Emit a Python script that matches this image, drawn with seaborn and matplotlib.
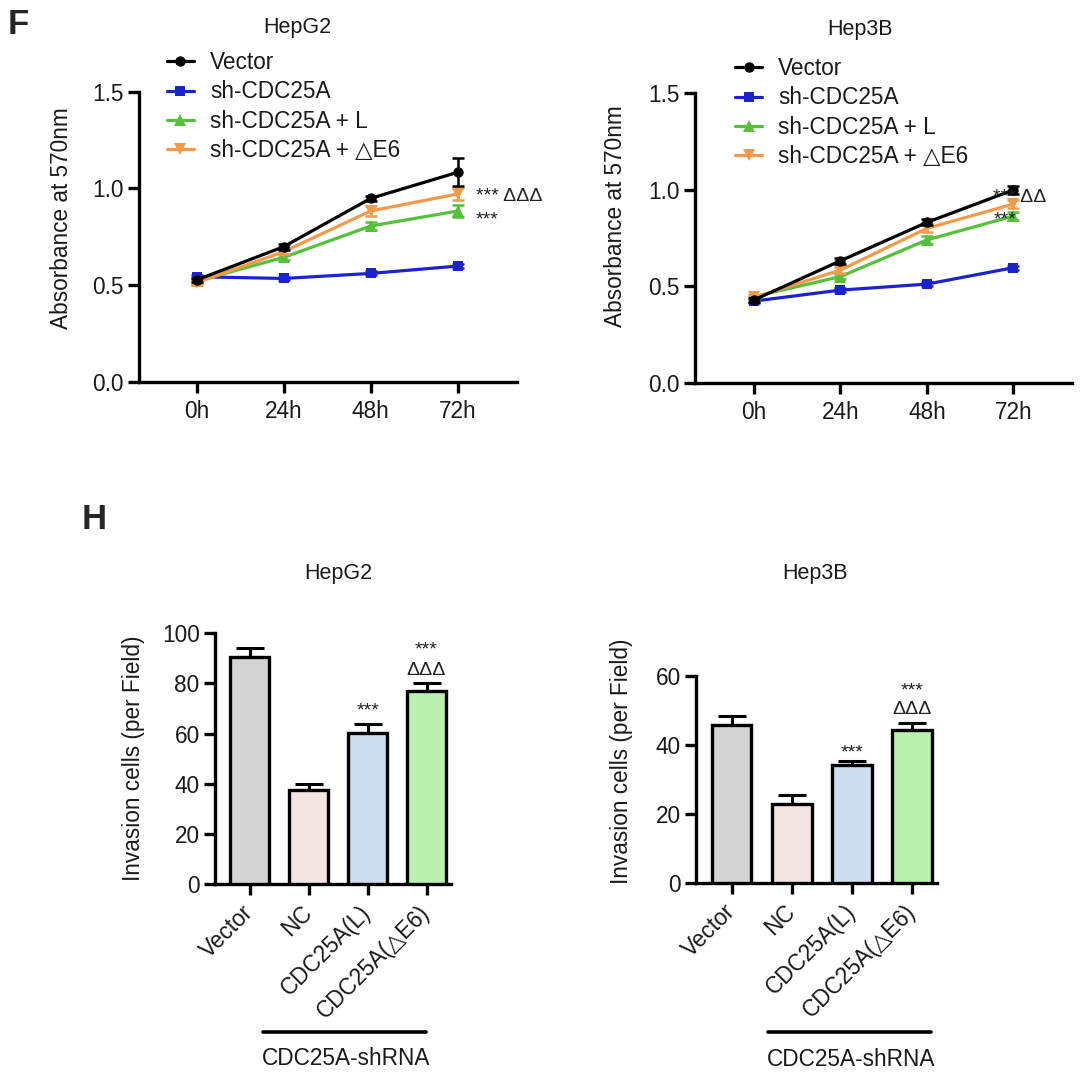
import numpy as np
import pandas as pd
import matplotlib
matplotlib.use("Agg")
import matplotlib.pyplot as plt
import matplotlib.transforms as mtransforms
from matplotlib.lines import Line2D
import seaborn as sns

sns.set_style("ticks")
plt.rcParams['font.family'] = ['Liberation Sans', 'DejaVu Sans']

# ---------------- data ----------------
times = [0, 24, 48, 72]
time_labels = ["0h", "24h", "48h", "72h"]
groups = ["Vector", "sh-CDC25A", "sh-CDC25A + L", "sh-CDC25A + \u25b3E6"]

hepg2_vector = [0.526, 0.698, 0.948, 1.083]
hepg2_sh = [0.543, 0.534, 0.560, 0.598]
hepg2_L = [0.520, 0.643, 0.805, 0.883]
hepg2_dE6 = [0.512, 0.672, 0.883, 0.971]
hepg2_vector_err = [0.010, 0.015, 0.015, 0.072]
hepg2_sh_err = [0.010, 0.010, 0.010, 0.010]
hepg2_L_err = [0.010, 0.012, 0.020, 0.030]
hepg2_dE6_err = [0.010, 0.012, 0.025, 0.030]

hep3b_vector = [0.429, 0.632, 0.831, 0.999]
hep3b_sh = [0.423, 0.480, 0.511, 0.596]
hep3b_L = [0.446, 0.550, 0.740, 0.864]
hep3b_dE6 = [0.442, 0.584, 0.800, 0.926]
hep3b_vector_err = [0.010, 0.015, 0.015, 0.020]
hep3b_sh_err = [0.010, 0.010, 0.010, 0.010]
hep3b_L_err = [0.010, 0.015, 0.020, 0.020]
hep3b_dE6_err = [0.010, 0.015, 0.020, 0.020]

bar_categories = ["Vector", "NC", "CDC25A(L)", "CDC25A(\u25b3E6)"]
hepg2_invasion = [90.7, 37.5, 60.4, 77.1]
hepg2_invasion_err = [3.6, 2.3, 3.3, 3.0]
hep3b_invasion = [45.7, 23.0, 34.1, 44.3]
hep3b_invasion_err = [2.8, 2.6, 1.4, 2.2]

# ---------------- styles ----------------
line_colors = {groups[0]: "#000000", groups[1]: "#1b24cc",
               groups[2]: "#55c03c", groups[3]: "#f39a4a"}
line_markers = {groups[0]: "o", groups[1]: "s", groups[2]: "^", groups[3]: "v"}
marker_sizes = {groups[0]: 7.5, groups[1]: 7, groups[2]: 8.5, groups[3]: 8.5}
bar_colors = ["#d4d4d4", "#f7e1e1", "#c9dcf3", "#b3fba5"]

FS = 16.3
SPINE = 2.4

fig = plt.figure(figsize=(10.8, 10.78), dpi=100)
W, H = 1080.0, 1078.0


def ax_px(left, top, right, bottom):
    return fig.add_axes([left / W, 1 - bottom / H, (right - left) / W, (bottom - top) / H])


def style_axes(ax):
    sns.despine(ax=ax)
    for s in ["left", "bottom"]:
        ax.spines[s].set_linewidth(SPINE)
        ax.spines[s].set_color("black")
    ax.tick_params(axis="both", width=SPINE, length=8, color="black",
                   labelsize=FS, labelcolor="#1a1a1a")
    ax.tick_params(axis="y", pad=3)
    ax.tick_params(axis="x", pad=5)


def line_panel(ax, series, errs, xlim, legend_anchor, annots):
    df = pd.DataFrame({
        "time": np.tile(times, 4),
        "value": np.concatenate(series),
        "group": np.repeat(groups, 4),
    })
    draw_order = [groups[1], groups[2], groups[3], groups[0]]
    for z, g in enumerate(draw_order):
        sub = df[df.group == g]
        i = groups.index(g)
        ax.errorbar(times, series[i], yerr=errs[i], fmt="none",
                    ecolor=line_colors[g], elinewidth=1.8, capsize=4.5,
                    capthick=1.8, zorder=2 + z * 2)
        sns.lineplot(data=sub, x="time", y="value", color=line_colors[g],
                     marker=line_markers[g], markersize=marker_sizes[g],
                     markeredgewidth=0, linewidth=2.3, ax=ax, legend=False,
                     zorder=3 + z * 2, errorbar=None)
    ax.set_xlim(*xlim)
    ax.set_ylim(0, 1.5)
    ax.set_xticks(times)
    ax.set_xticklabels(time_labels)
    ax.set_yticks([0, 0.5, 1.0, 1.5])
    ax.set_yticklabels(["0.0", "0.5", "1.0", "1.5"])
    ax.set_xlabel("")
    ax.set_ylabel("Absorbance at 570nm", fontsize=FS, color="#1a1a1a", va="center")
    style_axes(ax)
    handles = [Line2D([0], [0], color=line_colors[g], marker=line_markers[g],
                      markersize=marker_sizes[g], markeredgewidth=0, linewidth=2.3)
               for g in groups]
    leg = ax.legend(handles, groups, loc="upper left", bbox_to_anchor=legend_anchor,
                    frameon=False, fontsize=FS, handlelength=1.2, handletextpad=0.7,
                    labelspacing=0.28, borderpad=0, borderaxespad=0)
    for t in leg.get_texts():
        t.set_color("#1a1a1a")
    for (x, y, s) in annots:
        ax.text(x, y, s, fontsize=14, color="#222222", ha="left", va="baseline",
                clip_on=False, zorder=20)


def bar_panel(ax, values, errs, ylim, yticks, annots, line_x, line_y, text_x, text_y):
    df = pd.DataFrame({"cat": bar_categories, "val": values})
    sns.barplot(data=df, x="cat", y="val", hue="cat", palette=bar_colors,
                order=bar_categories, hue_order=bar_categories, legend=False,
                width=0.66, edgecolor="black", linewidth=2.4, errorbar=None,
                ax=ax, zorder=3)
    xs = np.arange(len(bar_categories))
    ax.errorbar(xs, values, yerr=[np.zeros(len(values)), errs], fmt="none",
                ecolor="black", elinewidth=2.2, capsize=10, capthick=2.2, zorder=2)
    ax.set_xlim(-0.59, 3.41)
    ax.set_ylim(*ylim)
    ax.set_yticks(yticks)
    ax.set_xlabel("")
    ax.set_ylabel("Invasion cells (per Field)", fontsize=FS, color="#1a1a1a", va="center")
    style_axes(ax)
    ax.set_xticks(xs)
    ax.set_xticklabels(bar_categories, rotation=45, ha="right",
                       rotation_mode="anchor", va="center")
    ax.tick_params(axis="x", pad=10)
    for (x, y, s, fs) in annots:
        ax.text(x, y, s, fontsize=fs, color="#222222", ha="center", va="baseline",
                zorder=20)
    tr = mtransforms.blended_transform_factory(ax.transData, ax.transAxes)
    ax.add_line(Line2D(line_x, [line_y, line_y], color="black", linewidth=2.6,
                       transform=tr, clip_on=False))
    ax.text(text_x, text_y, "CDC25A-shRNA", fontsize=FS, color="#1a1a1a",
            ha="center", va="center", transform=tr)


# ---------------- top panels ----------------
ax1 = ax_px(139.3, 91.7, 516.7, 381.7)
line_panel(ax1, [hepg2_vector, hepg2_sh, hepg2_L, hepg2_dE6],
           [hepg2_vector_err, hepg2_sh_err, hepg2_L_err, hepg2_dE6_err],
           (-15.8, 88.3), (0.073, 1.14),
           [(77.0, 0.935, "*** \u0394\u0394\u0394"), (77.0, 0.813, "***")])
ax1.yaxis.set_label_coords(-0.206, 0.565)

ax2 = ax_px(695.0, 93.3, 1071.7, 382.7)
line_panel(ax2, [hep3b_vector, hep3b_sh, hep3b_L, hep3b_dE6],
           [hep3b_vector_err, hep3b_sh_err, hep3b_L_err, hep3b_dE6_err],
           (-16.4, 88.2), (0.106, 1.125),
           [(66.4, 0.937, "*** \u0394\u0394"), (66.4, 0.821, "***")])
ax2.yaxis.set_label_coords(-0.21, 0.576)

# ---------------- bottom panels ----------------
ax3 = ax_px(215.0, 633.3, 450.7, 884.0)
bar_panel(ax3, hepg2_invasion, hepg2_invasion_err, (0, 100), [0, 20, 40, 60, 80, 100],
          [(2, 67.3, "***", 14), (3, 91.7, "***", 14), (3, 83.2, "\u0394\u0394\u0394", 14)],
          [0.23, 2.99], -0.589, 1.64, -0.698)
ax3.yaxis.set_label_coords(-0.347, 0.503)

ax4 = ax_px(696.0, 676.0, 936.7, 883.3)
bar_panel(ax4, hep3b_invasion, hep3b_invasion_err, (0, 60), [0, 20, 40, 60],
          [(2, 36.5, "***", 14), (3, 54.4, "***", 14), (3, 48.9, "\u0394\u0394\u0394", 14)],
          [0.6, 3.31], -0.719, 1.99, -0.848)
ax4.yaxis.set_label_coords(-0.309, 0.591)

# ---------------- titles & panel letters ----------------
fig.text(297 / W, 1 - 28 / H, "HepG2", fontsize=15.5, ha="center", va="center", color="#1a1a1a")
fig.text(860 / W, 1 - 29 / H, "Hep3B", fontsize=15.5, ha="center", va="center", color="#1a1a1a")
fig.text(338 / W, 1 - 574 / H, "HepG2", fontsize=15.5, ha="center", va="center", color="#1a1a1a")
fig.text(815 / W, 1 - 574 / H, "Hep3B", fontsize=15.5, ha="center", va="center", color="#1a1a1a")
fig.text(8 / W, 1 - 8 / H, "F", fontsize=25, fontweight="bold", ha="left", va="top")
fig.text(82 / W, 1 - 503 / H, "H", fontsize=25, fontweight="bold", ha="left", va="top")

fig.savefig("out.png", dpi=100)
